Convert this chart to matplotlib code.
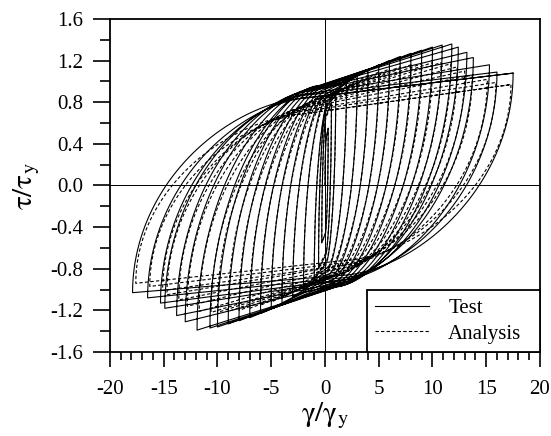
import numpy as np
import matplotlib.pyplot as plt
from matplotlib.ticker import MultipleLocator, FormatStrFormatter

plt.rcParams['font.family'] = ['Liberation Serif', 'DejaVu Serif']
plt.rcParams['mathtext.fontset'] = 'stix'
plt.rcParams['axes.unicode_minus'] = False

# peak points of each cycle (test)
test_pos_gamma = [0.3, 0.6, 1.0, 2.0, 3.0, 4.0, 5.0, 6.0, 7.0, 8.0, 9.0, 10.0,
                  10.9, 11.8, 12.4, 13.2, 13.8, 15.3, 16.0, 17.5]
test_pos_tau = [0.55, 0.80, 0.90, 1.00, 1.06, 1.11, 1.16, 1.20, 1.24, 1.27, 1.30, 1.33,
                1.35, 1.36, 1.33, 1.28, 1.23, 1.16, 1.09, 1.08]
test_neg_gamma = [-0.3, -0.6, -1.0, -2.0, -3.0, -4.0, -5.0, -6.0, -7.0, -8.0, -9.0, -10.0,
                  -10.7, -11.9, -13.0, -13.8, -14.9, -15.3, -16.5, -17.9]
test_neg_tau = [-0.55, -0.80, -0.90, -1.00, -1.07, -1.13, -1.18, -1.23, -1.27, -1.30, -1.33, -1.36,
                -1.37, -1.39, -1.31, -1.25, -1.18, -1.13, -1.08, -1.03]

# peak points of each cycle (analysis)
ana_pos_gamma = [0.3, 0.6, 1.0, 2.0, 3.0, 4.0, 5.0, 6.0, 7.0, 8.0, 9.0, 10.0,
                 10.8, 11.7, 12.3, 13.0, 13.7, 15.1, 15.9, 17.3]
ana_pos_tau = [0.55, 0.78, 0.88, 0.97, 1.02, 1.06, 1.09, 1.12, 1.14, 1.16, 1.17, 1.18,
               1.18, 1.17, 1.14, 1.10, 1.06, 1.02, 0.99, 0.97]
ana_neg_gamma = [-0.3, -0.6, -1.0, -2.0, -3.0, -4.0, -5.0, -6.0, -7.0, -8.0, -9.0, -10.0,
                 -10.6, -11.7, -12.8, -13.6, -14.7, -15.1, -16.3, -17.6]
ana_neg_tau = [-0.55, -0.78, -0.88, -0.97, -1.03, -1.08, -1.12, -1.15, -1.18, -1.20, -1.21, -1.22,
               -1.22, -1.21, -1.16, -1.10, -1.05, -1.01, -0.97, -0.94]


def branch(x0, y0, x1, y1, env):
    # curved reversal leaving (x0, y0) steeply, flattening out, then running on to (x1, y1)
    span = abs(x1 - x0)
    rx = 0.45 * (x1 - x0)
    m = np.sign(y1) * (0.85 * env - 0.009 * span)
    t = np.linspace(0, np.pi / 2, 50)
    xs = x0 + rx * (1 - np.cos(t) ** 1.2)
    ys = y0 + (m - y0) * np.sin(t)
    return np.append(xs, x1), np.append(ys, y1)


def hysteresis(pg, pt, ng, nt):
    xs, ys = [0.0], [0.0]
    top, bot = 0.0, 0.0
    for a, p, b, n in zip(pg, pt, ng, nt):
        top = max(top, p)
        bx, by = branch(xs[-1], ys[-1], a, p, top)
        xs += list(bx); ys += list(by)
        bot = max(bot, -n)
        bx, by = branch(xs[-1], ys[-1], b, n, bot)
        xs += list(bx); ys += list(by)
    # last reloading runs back up to the final positive peak
    bx, by = branch(xs[-1], ys[-1], pg[-1], pt[-1], top)
    xs += list(bx); ys += list(by)
    return np.array(xs), np.array(ys)


fig = plt.figure(figsize=(5.51, 4.36), dpi=100)
ax = fig.add_axes([0.1996, 0.1927, 0.7804, 0.7637])

tx, ty = hysteresis(test_pos_gamma, test_pos_tau, test_neg_gamma, test_neg_tau)
axx, axy = hysteresis(ana_pos_gamma, ana_pos_tau, ana_neg_gamma, ana_neg_tau)

ax.plot(tx, ty, color='black', lw=0.8, label='Test')
ax.plot(axx, axy, color='black', lw=0.8, dashes=(3, 2), label='Analysis')

ax.axhline(0, color='black', lw=0.7)
ax.axvline(0, color='black', lw=0.7)

ax.set_xlim(-20, 20)
ax.set_ylim(-1.6, 1.6)
ax.xaxis.set_major_locator(MultipleLocator(5))
ax.xaxis.set_minor_locator(MultipleLocator(1))
ax.yaxis.set_major_locator(MultipleLocator(0.4))
ax.yaxis.set_minor_locator(MultipleLocator(0.2))
ax.yaxis.set_major_formatter(FormatStrFormatter('%.1f'))

ax.tick_params(axis='x', which='major', direction='out', length=11, width=1.2, labelsize=15, pad=9)
ax.tick_params(axis='x', which='minor', direction='out', length=6, width=1.2)
ax.tick_params(axis='y', which='major', direction='out', length=12, width=1.2, labelsize=15, pad=7)
ax.tick_params(axis='y', which='minor', direction='out', length=7, width=1.2)
for s in ax.spines.values():
    s.set_linewidth(1.3)

ax.set_xlabel(r'$\mathrm{\gamma/\gamma_y}$', fontsize=21, labelpad=1)
ax.set_ylabel(r'$\mathrm{\tau/\tau_y}$', fontsize=21, labelpad=6)

leg = ax.legend(loc='lower left', bbox_to_anchor=(0.5975, 0.0, 0.4025, 0.19), mode='expand',
                borderaxespad=0, fancybox=False, framealpha=1, edgecolor='black',
                fontsize=15, handlelength=2.6, handletextpad=0.9, labelspacing=0.3,
                borderpad=0.4)
leg.get_frame().set_linewidth(1.3)

fig.savefig('out.png', dpi=100)
